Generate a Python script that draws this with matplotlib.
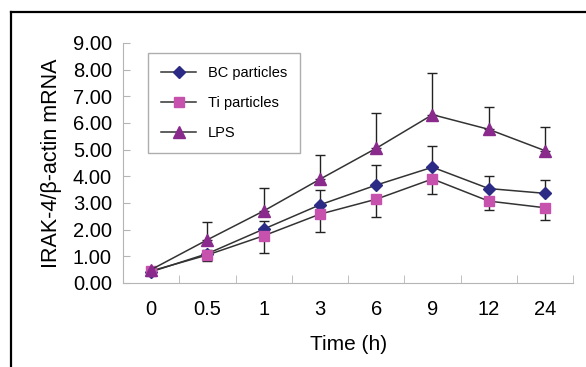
import matplotlib.pyplot as plt
from matplotlib.lines import Line2D

plt.rcParams['font.family'] = ['Liberation Sans', 'DejaVu Sans']

# du lieu doc tu hinh
times = ['0', '0.5', '1', '3', '6', '9', '12', '24']
bc = [0.42, 1.10, 2.02, 2.93, 3.67, 4.34, 3.54, 3.36]
bc_err = [0.08, 0.15, 0.30, 0.55, 0.77, 0.81, 0.48, 0.50]
ti = [0.45, 1.05, 1.77, 2.58, 3.14, 3.90, 3.07, 2.82]
ti_err = [0.08, 0.21, 0.66, 0.68, 0.68, 0.57, 0.33, 0.46]
lps = [0.50, 1.62, 2.70, 3.89, 5.05, 6.31, 5.76, 4.96]
lps_err = [0.08, 0.66, 0.85, 0.91, 1.31, 1.55, 0.85, 0.90]

fig = plt.figure(figsize=(5.86, 3.67), dpi=100)
ax = fig.add_axes([0.21, 0.229, 0.768, 0.654])

x = list(range(len(times)))
line_c = '#333333'

# duong + sai so (chi mot chieu nhu Excel)
ax.errorbar(x, lps, yerr=[[0] * len(x), lps_err], fmt='none', ecolor='#222222',
            elinewidth=1, capsize=3.6, capthick=1, zorder=2)
ax.errorbar(x, bc, yerr=[[0] * len(x), bc_err], fmt='none', ecolor='#222222',
            elinewidth=1, capsize=3.6, capthick=1, zorder=2)
ax.errorbar(x, ti, yerr=[ti_err, [0] * len(x)], fmt='none', ecolor='#222222',
            elinewidth=1, capsize=3.6, capthick=1, zorder=2)

ax.plot(x, bc, color=line_c, lw=1.1, marker='D', ms=6, mfc='#2b2b85', mec='#2b2b85',
        label='BC particles', zorder=3)
ax.plot(x, ti, color=line_c, lw=1.1, marker='s', ms=7, mfc='#c652ae', mec='#c652ae',
        label='Ti particles', zorder=3)
ax.plot(x, lps, color=line_c, lw=1.1, marker='^', ms=8, mfc='#8a2a8c', mec='#8a2a8c',
        label='LPS', zorder=3)

ax.set_xlim(-0.5, len(times) - 0.5)
ax.set_ylim(0, 9)
ax.set_yticks(range(10))
ax.set_yticklabels(['%.2f' % v for v in range(10)], fontsize=14.5)
ax.set_xticks(x)
ax.set_xticklabels(times, fontsize=14.5)
ax.set_xticks([i - 0.5 for i in range(len(times) + 1)], minor=True)
ax.tick_params(axis='x', which='major', length=0, pad=12)
ax.tick_params(axis='x', which='minor', direction='in', length=6, color='#b5b5b5')
ax.tick_params(axis='y', direction='in', length=5, color='#b5b5b5', pad=8)

for s in ['top', 'right']:
    ax.spines[s].set_visible(False)
for s in ['left', 'bottom']:
    ax.spines[s].set_color('#b5b5b5')

ax.set_xlabel('Time (h)', fontsize=15, labelpad=12)
ax.set_ylabel('IRAK-4/β-actin mRNA', fontsize=15.5, labelpad=8)

leg = ax.legend(loc='upper left', bbox_to_anchor=(0.056, 0.958), fontsize=10.5,
                fancybox=False, edgecolor='#999999', handlelength=2.4,
                labelspacing=1.1, borderpad=0.9, borderaxespad=0)
leg.get_frame().set_linewidth(1)

# khung den ben ngoai
fig.add_artist(Line2D([11 / 586, 11 / 586], [0, 1 - 12 / 367], color='black', lw=1.6))
fig.add_artist(Line2D([11 / 586, 1], [1 - 12 / 367, 1 - 12 / 367], color='black', lw=1.6))

plt.savefig('out.png', dpi=100)
